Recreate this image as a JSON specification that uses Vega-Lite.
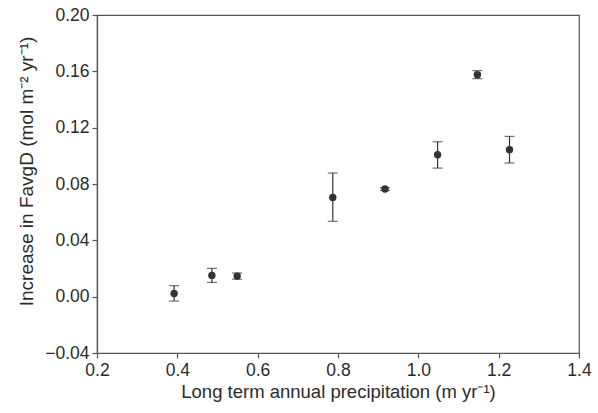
{
  "$schema": "https://vega.github.io/schema/vega-lite/v6.json",
  "width": 482,
  "height": 338,
  "autosize": {"type": "none"},
  "padding": {"left": 97, "top": 15, "right": 19, "bottom": 60},
  "background": "white",
  "config": {
    "view": {"stroke": "#555555", "strokeWidth": 1.2},
    "font": "Liberation Sans",
    "axis": {
      "grid": false,
      "domainColor": "#555555",
      "domainWidth": 1.2,
      "tickColor": "#555555",
      "tickSize": 5,
      "tickWidth": 1.2,
      "labelFont": "Liberation Sans",
      "labelFontSize": 17.5,
      "labelColor": "#2b2b2b",
      "labelFlush": false,
      "labelOverlap": false,
      "titleFont": "Liberation Sans",
      "titleFontSize": 18,
      "titleFontWeight": "normal",
      "titleColor": "#2b2b2b",
      "labelPadding": 3
    }
  },
  "data": {
    "values": [
      {"precip": 0.392, "increase": 0.0023, "lo": -0.0031, "hi": 0.0078},
      {"precip": 0.486, "increase": 0.0151, "lo": 0.0101, "hi": 0.0201},
      {"precip": 0.549, "increase": 0.0146, "lo": 0.0124, "hi": 0.0168},
      {"precip": 0.787, "increase": 0.0705, "lo": 0.0535, "hi": 0.0878},
      {"precip": 0.917, "increase": 0.0764, "lo": 0.0754, "hi": 0.0774},
      {"precip": 1.048, "increase": 0.1008, "lo": 0.0913, "hi": 0.1100},
      {"precip": 1.147, "increase": 0.1576, "lo": 0.1548, "hi": 0.1605},
      {"precip": 1.227, "increase": 0.1044, "lo": 0.0949, "hi": 0.1138}
    ]
  },
  "encoding": {
    "x": {
      "field": "precip",
      "type": "quantitative",
      "scale": {"domain": [0.2, 1.4], "nice": false, "zero": false},
      "axis": {
        "values": [0.2, 0.4, 0.6, 0.8, 1.0, 1.2, 1.4],
        "format": ".1f",
        "title": "Long term annual precipitation (m yr⁻¹)",
        "titleFontSize": 18.5,
        "titlePadding": 4
      }
    }
  },
  "layer": [
    {
      "mark": {"type": "rule", "color": "#333333", "strokeWidth": 1.2},
      "encoding": {
        "y": {
          "field": "lo",
          "type": "quantitative",
          "scale": {"domain": [-0.04, 0.2], "nice": false, "zero": false},
          "axis": {
            "values": [-0.04, 0, 0.04, 0.08, 0.12, 0.16, 0.2],
            "format": ".2f",
            "title": "Increase in FavgD (mol m⁻² yr⁻¹)",
            "titleFontSize": 19,
            "titleAngle": -90,
            "titleAlign": "center",
            "titleBaseline": "bottom",
            "titleX": -61,
            "titleY": 156
          }
        },
        "y2": {"field": "hi"}
      }
    },
    {
      "mark": {"type": "tick", "orient": "horizontal", "color": "#333333", "size": 10, "thickness": 1.2},
      "encoding": {"y": {"field": "lo", "type": "quantitative"}}
    },
    {
      "mark": {"type": "tick", "orient": "horizontal", "color": "#333333", "size": 10, "thickness": 1.2},
      "encoding": {"y": {"field": "hi", "type": "quantitative"}}
    },
    {
      "mark": {"type": "circle", "color": "#333333", "opacity": 1, "size": 55},
      "encoding": {"y": {"field": "increase", "type": "quantitative"}}
    }
  ]
}
